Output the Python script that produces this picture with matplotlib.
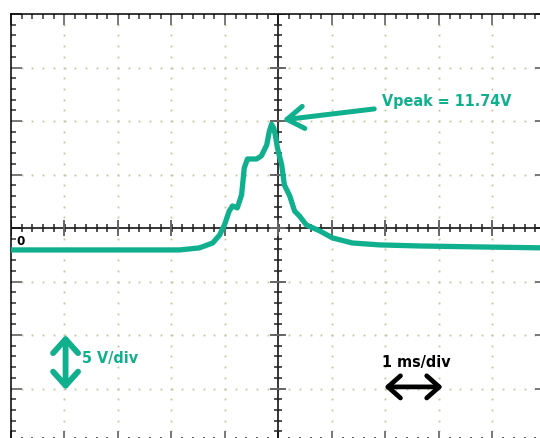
#!/usr/bin/env python3
"""Oscilloscope-style capture: single voltage pulse, 5 V/div, 1 ms/div."""

import numpy as np
import matplotlib.pyplot as plt

# trace, time in ms (screen centre = 0), voltage in V relative to ground marker
TIME_MS = [-5.0, -1.85, -1.48, -1.23, -1.10, -1.01, -0.92, -0.86, -0.77, -0.69,
           -0.64, -0.58, -0.41, -0.32, -0.22, -0.17, -0.13, -0.09, -0.06, -0.02,
           0.06, 0.11, 0.21, 0.30, 0.39, 0.52, 0.77, 1.01, 1.38, 1.89, 2.64,
           3.76, 5.0]
VOLTS = [0.0, 0.0, 0.19, 0.65, 1.40, 2.34, 3.64, 4.11, 3.93, 5.14,
         7.66, 8.50, 8.50, 8.79, 9.81, 11.12, 11.74, 11.40, 10.75, 9.53,
         7.94, 6.07, 5.05, 3.64, 3.18, 2.34, 1.78, 1.12, 0.65, 0.47, 0.37,
         0.28, 0.19]

PEAK_LABEL = "Vpeak = 11.74V"
V_SCALE_LABEL = "5 V/div"
T_SCALE_LABEL = "1 ms/div"

V_PER_DIV = 5.0
MS_PER_DIV = 1.0
CENTER_V = 2.05  # ground marker sits a bit below screen centre
TEAL = "#10b08e"
DOT = "#c6c2a2"


def main():
    fig = plt.figure(figsize=(5.4, 4.39), dpi=100)
    ax = fig.add_axes([11 / 540, -4 / 439, 535 / 540, 428 / 439])

    x_major = np.arange(-5, 5.01, MS_PER_DIV)
    x_minor = np.arange(-5, 5.01, MS_PER_DIV / 5)
    y_major = CENTER_V + np.arange(-4, 4.01) * V_PER_DIV
    y_minor = CENTER_V + np.arange(-20, 20.01) * V_PER_DIV / 5

    ax.set_xlim(-5, 5)
    ax.set_ylim(CENTER_V - 4 * V_PER_DIV, CENTER_V + 4 * V_PER_DIV)
    ax.set_xticks(x_major)
    ax.set_xticks(x_minor, minor=True)
    ax.set_yticks(y_major)
    ax.set_yticks(y_minor, minor=True)
    ax.tick_params(which="both", direction="in", top=True, right=True,
                   labelbottom=False, labelleft=False)
    ax.tick_params(which="major", length=8, width=1.3, color="#6e6e6e")
    ax.tick_params(which="minor", length=3.6, width=1.1, color="#333333")
    for sp in ax.spines.values():
        sp.set_color("black")
        sp.set_linewidth(1.1)

    # dotted graticule
    for xv in x_major[1:-1]:
        ax.plot(np.full(len(y_minor), xv), y_minor, ls="none", marker="s",
                ms=1.3, mew=0, color=DOT, zorder=1)
    for yv in y_major[1:-1]:
        ax.plot(x_minor, np.full(len(x_minor), yv), ls="none", marker="s",
                ms=1.3, mew=0, color=DOT, zorder=1)

    # centre axes with cross ticks
    ax.axhline(CENTER_V, color="black", lw=1.1, zorder=2)
    ax.axvline(0, color="black", lw=1.1, zorder=2)
    ax.plot(x_minor, np.full(len(x_minor), CENTER_V), ls="none", marker="|",
            ms=6, mew=1.1, color="#222222", zorder=2)
    ax.plot(x_major, np.full(len(x_major), CENTER_V), ls="none", marker="|",
            ms=12, mew=1.4, color="#666666", zorder=2)
    ax.plot(np.zeros(len(y_minor)), y_minor, ls="none", marker="_",
            ms=6, mew=1.1, color="#222222", zorder=2)
    ax.plot(np.zeros(len(y_major)), y_major, ls="none", marker="_",
            ms=12, mew=1.4, color="#666666", zorder=2)

    # trace
    ax.plot(TIME_MS, VOLTS, color=TEAL, lw=3.8, solid_joinstyle="round",
            solid_capstyle="butt", zorder=4)

    font = dict(family=["DejaVu Sans"], fontstretch="condensed",
                fontweight="bold")
    ax.text(-4.90, 0.84, "0", fontsize=9.5, color="black",
            ha="left", va="center", zorder=5, **font)

    # peak annotation
    ax.annotate("", xy=(0.075, 12.15), xytext=(1.79, 13.18),
                arrowprops=dict(arrowstyle="->,head_length=0.6,head_width=0.4",
                                color=TEAL, lw=3.6, mutation_scale=20,
                                shrinkA=0, shrinkB=0, capstyle="round",
                                joinstyle="round"), zorder=5)
    ax.text(1.93, 13.93, PEAK_LABEL, fontsize=11.5, color=TEAL,
            ha="left", va="center", zorder=5, **font)

    # scale markers
    ax.annotate("", xy=(-3.98, -7.94), xytext=(-3.98, -13.08),
                arrowprops=dict(arrowstyle="<->,head_length=0.5,head_width=0.45",
                                color=TEAL, lw=4.2, mutation_scale=20,
                                shrinkA=0, shrinkB=0, capstyle="round",
                                joinstyle="round"), zorder=5)
    ax.text(-3.68, -10.09, V_SCALE_LABEL, fontsize=11.5, color=TEAL,
            ha="left", va="center", zorder=5, **font)

    ax.annotate("", xy=(1.98, -12.8), xytext=(3.07, -12.8),
                arrowprops=dict(arrowstyle="<->,head_length=0.45,head_width=0.4",
                                color="black", lw=3.4, mutation_scale=20,
                                shrinkA=0, shrinkB=0, capstyle="round",
                                joinstyle="round"), zorder=5)
    ax.text(1.94, -10.47, T_SCALE_LABEL, fontsize=11.5, color="black",
            ha="left", va="center", zorder=5, **font)

    fig.savefig("out.png", dpi=100)


if __name__ == "__main__":
    main()
